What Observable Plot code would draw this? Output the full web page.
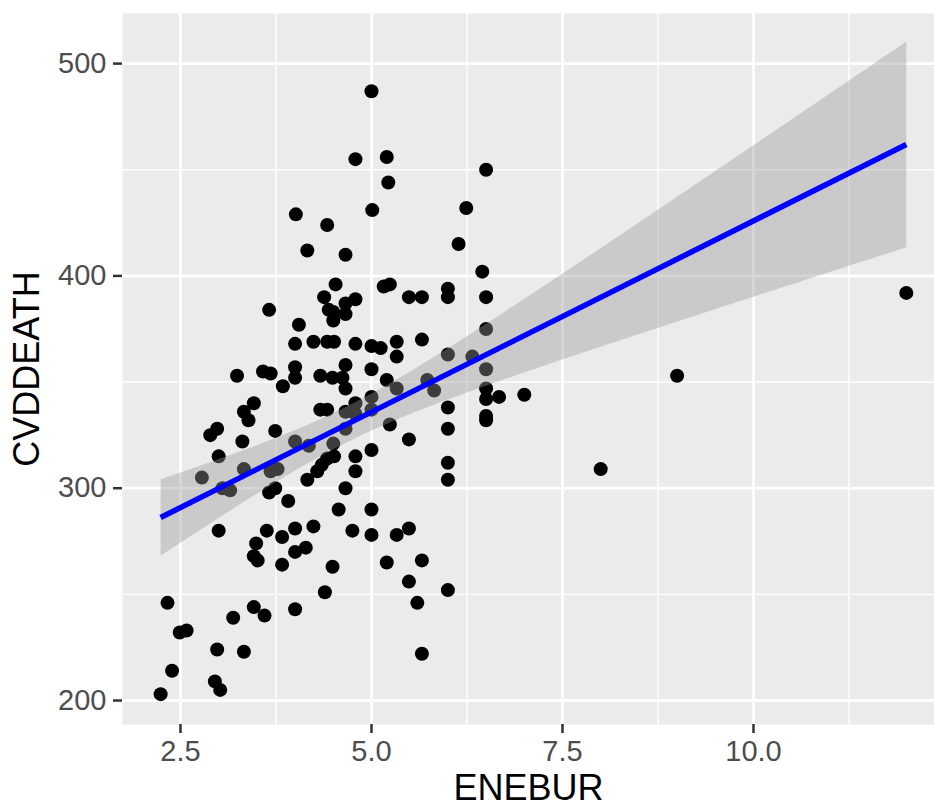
<!DOCTYPE html>
<html>
<head>
<meta charset="utf-8">
<script src="https://cdn.jsdelivr.net/npm/d3@7"></script>
<script src="https://cdn.jsdelivr.net/npm/@observablehq/plot@0.6"></script>
<style>
  html, body { margin: 0; padding: 0; background: #ffffff; }
  svg { display: block; }
</style>
</head>
<body>
<script>
// ENEBUR (x) and CVDDEATH (y) values
const enebur = [
  5.00, 4.79, 5.20, 5.22, 5.01, 6.50, 6.24, 6.14, 6.45, 4.01,
  4.42, 4.16, 4.66, 4.53, 5.16, 5.24, 4.38, 4.79, 4.66, 4.44,
  4.50, 4.66, 4.50, 5.49, 5.66, 6.00, 6.00, 6.50, 4.05, 4.00,
  4.24, 4.42, 4.51, 4.79, 5.00, 5.12, 5.33, 5.33, 5.66, 4.66,
  5.00, 3.66, 3.24, 3.58, 3.68, 4.00, 4.00, 3.84, 4.33, 4.49,
  4.62, 5.20, 5.33, 4.66, 3.46, 3.33, 3.39, 4.33, 4.42, 3.74,
  2.98, 2.89, 3.31, 3.00, 4.00, 4.18, 4.50, 2.78, 3.33, 3.05,
  3.15, 3.68, 3.77, 3.66, 3.74, 3.91, 4.16, 4.29, 4.35, 4.42,
  4.51, 4.66, 4.66, 4.79, 4.79, 5.00, 5.00, 6.00, 6.32, 6.50,
  6.50, 5.73, 5.82, 6.50, 6.50, 6.67, 7.00, 6.00, 6.50, 6.50,
  6.00, 6.00, 6.00, 5.49, 5.24, 5.00, 4.79, 4.79, 4.66, 4.57,
  5.00, 4.75, 5.00, 5.33, 5.49, 4.24, 4.00, 4.14, 4.00, 4.49,
  5.20, 5.66, 5.49, 6.00, 4.39, 5.60, 4.00, 5.66, 3.00, 3.63,
  3.83, 3.49, 3.46, 3.51, 3.83, 2.33, 2.49, 2.58, 3.19, 3.46,
  3.60, 2.98, 3.33, 2.39, 2.24, 2.95, 3.02, 9.00, 8.00, 12.00
];
const cvddeath = [
  487, 455, 456, 444, 431, 450, 432, 415, 402, 429,
  424, 412, 410, 396, 395, 396, 390, 389, 387, 384,
  383, 382, 379, 390, 390, 394, 390, 390, 377, 368,
  369, 369, 369, 368, 367, 366, 369, 362, 370, 358,
  356, 384, 353, 355, 354, 357, 352, 348, 353, 352,
  352, 351, 347, 347, 340, 336, 332, 337, 337, 327,
  328, 325, 322, 315, 322, 320, 321, 305, 309, 300,
  299, 308, 309, 298, 300, 294, 304, 308, 311, 314,
  315, 336, 328, 340, 335, 343, 337, 363, 362, 375,
  356, 351, 346, 347, 342, 343, 344, 338, 334, 332,
  328, 312, 304, 323, 330, 318, 315, 308, 300, 290,
  290, 280, 278, 278, 281, 282, 281, 272, 270, 263,
  265, 266, 256, 252, 251, 246, 243, 222, 280, 280,
  277, 274, 268, 266, 264, 246, 232, 233, 239, 244,
  240, 224, 223, 214, 203, 209, 205, 353, 309, 392
];

const xTicks = [2.5, 5.0, 7.5, 10.0];
const xMinor = [3.75, 6.25, 8.75, 11.25];
const yTicks = [200, 300, 400, 500];
const yMinor = [250, 350, 450];
const xTitle = "ENEBUR";
const yTitle = "CVDDEATH";

const data = enebur.map((x, i) => ({ENEBUR: x, CVDDEATH: cvddeath[i]}));

const font = "'Liberation Sans', Arial, Helvetica, sans-serif";

const chart = Plot.plot({
  width: 934,
  height: 809,
  marginLeft: 122,
  marginRight: 0,
  marginTop: 13,
  marginBottom: 85,
  style: {fontFamily: font, background: "#ffffff"},
  x: {domain: [1.741, 12.369], label: null},
  y: {domain: [188.7, 523.6], label: null},
  marks: [
    Plot.frame({fill: "#EBEBEB", stroke: null}),
    Plot.ruleX(xMinor, {stroke: "#ffffff", strokeWidth: 1.4}),
    Plot.ruleY(yMinor, {stroke: "#ffffff", strokeWidth: 1.4}),
    Plot.ruleX(xTicks, {stroke: "#ffffff", strokeWidth: 2.8}),
    Plot.ruleY(yTicks, {stroke: "#ffffff", strokeWidth: 2.8}),
    Plot.dot(data, {x: "ENEBUR", y: "CVDDEATH", r: 7, fill: "#000000", stroke: null}),
    Plot.linearRegressionY(data, {
      x: "ENEBUR", y: "CVDDEATH", ci: 0.95,
      stroke: "#0000FF", strokeWidth: 5.5, strokeLinecap: "butt",
      fill: "#999999", fillOpacity: 0.4
    }),
    Plot.axisX(xTicks, {
      tickSize: 9, tickPadding: 7, stroke: "#333333", strokeWidth: 2.5,
      fill: "#4D4D4D", fontSize: 29, tickFormat: d => d.toFixed(1), label: null
    }),
    Plot.axisY(yTicks, {
      tickSize: 9, tickPadding: 7, stroke: "#333333", strokeWidth: 2.5,
      fill: "#4D4D4D", fontSize: 29, label: null
    }),
    Plot.text([xTitle], {
      frameAnchor: "bottom", dy: 50, lineAnchor: "top", textAnchor: "middle",
      fontSize: 36, fill: "#000000", text: d => d
    }),
    Plot.text([yTitle], {
      frameAnchor: "left", dx: -95, rotate: -90, lineAnchor: "middle", textAnchor: "middle",
      fontSize: 36, fill: "#000000", text: d => d
    })
  ]
});

document.body.appendChild(chart);
</script>
</body>
</html>
